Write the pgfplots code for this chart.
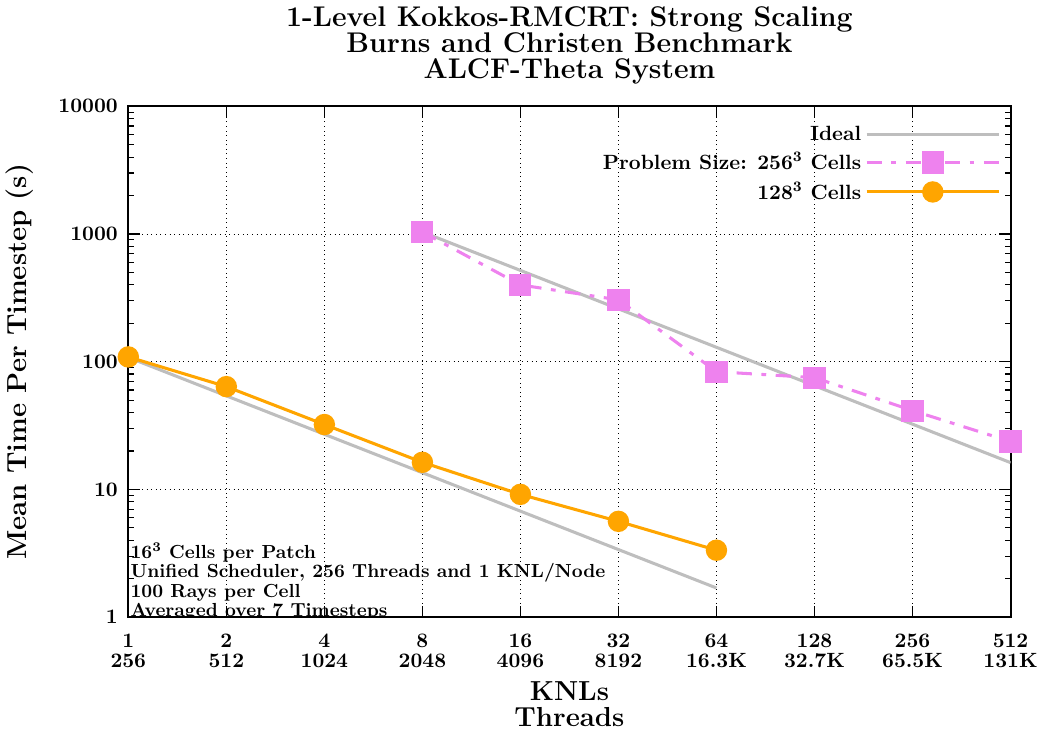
\documentclass[border=0pt]{standalone}
\usepackage{pgfplots}
\pgfplotsset{compat=1.18}
\definecolor{idealgray}{RGB}{190,190,190}
\definecolor{pviolet}{RGB}{238,130,238}
\definecolor{porange}{RGB}{255,165,0}
\begin{document}
\begin{tikzpicture}
\begin{axis}[
 scale only axis, width=462pt, height=267.5pt,
 xmode=log, ymode=log, log basis x=2,
 xmin=1, xmax=512, ymin=1, ymax=10000,
 xtick={1,2,4,8,16,32,64,128,256,512},
 xticklabels={1\\256, 2\\512, 4\\1024, 8\\2048, 16\\4096, 32\\8192, 64\\16.3K, 128\\32.7K, 256\\65.5K, 512\\131K},
 xticklabel style={align=center, font=\fontsize{10.8}{10.5}\selectfont\bfseries, yshift=-5.5pt},
 minor xtick={},
 ytick={1,10,100,1000,10000},
 yticklabels={1,10,100,1000,10000},
 yticklabel style={font=\fontsize{10.8}{11}\selectfont\bfseries, xshift=-2pt},
 minor ytick={2,3,4,5,6,7,8,9,20,30,40,50,60,70,80,90,200,300,400,500,600,700,800,900,2000,3000,4000,5000,6000,7000,8000,9000},
 tick align=inside,
 xtick pos=both, ytick pos=both,
 grid=major, major grid style={dotted, black, thin},
 axis line style={line width=1pt},
 every tick/.style={black, line width=0.6pt},
 major tick length=6pt, minor tick length=3pt,
 xlabel={KNLs\\Threads}, xlabel style={align=center, font=\fontsize{14.4}{14}\selectfont\bfseries},
 ylabel={Mean Time Per Timestep (s)}, ylabel style={font=\fontsize{14.4}{14}\selectfont\bfseries, yshift=6pt},
 title={1-Level Kokkos-RMCRT: Strong Scaling\\Burns and Christen Benchmark\\ALCF-Theta System},
 title style={align=center, font=\fontsize{14.9}{13.7}\selectfont\bfseries, yshift=2pt},
 legend plot pos=right,
 legend cell align=right,
 legend style={draw=none, fill=none, at={(rel axis cs:1,1)}, xshift=-2pt, yshift=-6pt, anchor=north east, font=\fontsize{10.8}{12}\selectfont\bfseries, row sep=1pt},
 legend image code/.code={\draw[mark repeat=2,mark phase=2,#1] plot coordinates {(0cm,0cm) (1.22cm,0cm) (2.44cm,0cm)};},
]
\addplot[idealgray, line width=1.6pt, forget plot] coordinates {(1,108) (64,1.69)};
\addplot[idealgray, line width=1.6pt] coordinates {(8,1037) (512,16.2)};
\addlegendentry{Ideal}
\addplot[pviolet, line width=1.6pt, dash pattern=on 8pt off 5pt on 2.5pt off 5pt, mark=square*, mark size=5pt, mark options={solid}] coordinates {
 (8,1037) (16,399) (32,305) (64,83.5) (128,75) (256,41.4) (512,23.7)};
\addlegendentry{Problem Size: 256\textsuperscript{3} Cells}
\addplot[porange, line width=1.6pt, mark=*, mark size=4.8pt] coordinates {
 (1,109) (2,63.8) (4,32.2) (8,16.3) (16,9.14) (32,5.62) (64,3.34)};
\addlegendentry{128\textsuperscript{3} Cells}
\node[anchor=south west, align=left, font=\fontsize{9.9}{10.2}\selectfont\bfseries, inner sep=0pt, xshift=1pt, yshift=-2pt] at (rel axis cs:0,0) {16\textsuperscript{3} Cells per Patch\\Unified Scheduler, 256 Threads and 1 KNL/Node\\100 Rays per Cell\\Averaged over 7 Timesteps};
\end{axis}
\end{tikzpicture}
\end{document}
